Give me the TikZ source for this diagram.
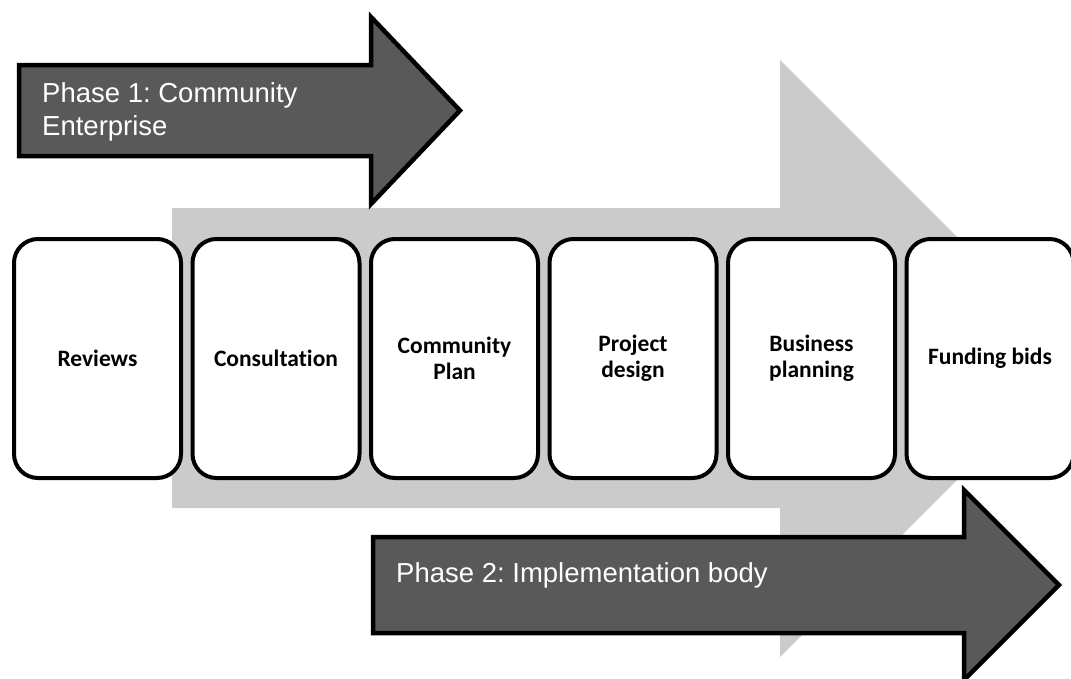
\documentclass[tikz,border=0pt]{standalone}
\usepackage{fontspec}
\setmainfont{Liberation Sans}
\newfontfamily\stagefont[RawFeature=-liga]{Carlito}
\usetikzlibrary{positioning}
\frenchspacing

\definecolor{phasegray}{HTML}{595959}
\definecolor{flowgray}{HTML}{CBCBCB}

\tikzset{
  stage/.style={draw=black, fill=white, line width=4pt, rounded corners=24pt,
    minimum width=167pt, minimum height=239pt, inner sep=0pt, outer sep=0pt,
    align=center, font=\stagefont\bfseries\fontsize{23.5}{26}\selectfont},
  phase/.style={draw=black, fill=phasegray, line width=4.5pt, line join=miter},
  phaselabel/.style={text=white, align=left, inner sep=0pt, anchor=north west,
    font=\fontsize{27.5}{33}\selectfont},
}

\begin{document}
\begin{tikzpicture}[x=1pt,y=-1pt]
  \useasboundingbox (0,0) rectangle (1071,678);
  \clip (0,0) rectangle (1071,678);

  % big background arrow
  \fill [flowgray] (172,208) -- (780,208) -- (780,60) -- (1078.5,358.5) -- (780,657) -- (780,508) -- (172,508) -- cycle;

  % phase arrows
  \draw [phase] (19,65) -- (371,65) -- (371,17) -- (460,110.5) -- (371,204) -- (371,156) -- (19,156) -- cycle;
  \draw [phase] (373,537) -- (964,537) -- (964,490) -- (1059,585) -- (964,680) -- (964,633) -- (373,633) -- cycle;

  \node [phaselabel] (phaseone) at (42,82) {Phase 1: Community\\Enterprise};
  \node [phaselabel] (phasetwo) at (396,562) {Phase 2: Implementation body};

  % stages
  \node [stage] (reviews) at (97.5,358.5) {Reviews};
  \node [stage, right=11.5pt of reviews] (consultation) {Consultation};
  \node [stage, right=11.5pt of consultation] (plan) {Community\\Plan};
  \node [stage, right=11.5pt of plan] (design) {Project\\design};
  \node [stage, right=11.5pt of design] (business) {Business\\planning};
  \node [stage, right=11.5pt of business] (funding) {Funding bids};
\end{tikzpicture}
\end{document}
